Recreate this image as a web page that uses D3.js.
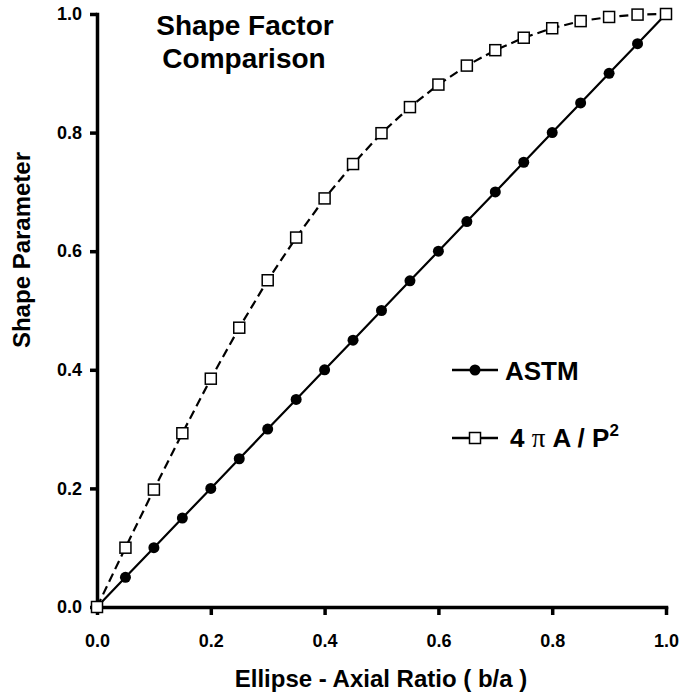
<!DOCTYPE html>
<html>
<head>
<meta charset="utf-8">
<script src="https://cdn.jsdelivr.net/npm/d3@7"></script>
<style>
  body { margin: 0; background: #fff; }
  svg text { font-family: "Liberation Sans", Arial, sans-serif; font-weight: bold; fill: #000; }
</style>
</head>
<body>
<div id="chart"></div>
<script>
// axial ratio b/a
const ratio = [0, 0.05, 0.1, 0.15, 0.2, 0.25, 0.3, 0.35, 0.4, 0.45, 0.5,
               0.55, 0.6, 0.65, 0.7, 0.75, 0.8, 0.85, 0.9, 0.95, 1.0];
// ASTM shape parameter
const astm = [0, 0.05, 0.1, 0.15, 0.2, 0.25, 0.3, 0.35, 0.4, 0.45, 0.5,
              0.55, 0.6, 0.65, 0.7, 0.75, 0.8, 0.85, 0.9, 0.95, 1.0];
// 4 pi A / P^2
const circ = [0, 0.10, 0.198, 0.293, 0.385, 0.471, 0.551, 0.623, 0.689, 0.747, 0.799,
              0.843, 0.881, 0.913, 0.939, 0.960, 0.976, 0.988, 0.995, 0.999, 1.0];
const ticks = [0, 0.2, 0.4, 0.6, 0.8, 1.0];

const width = 692, height = 694;
const svg = d3.select("#chart").append("svg")
    .attr("width", width)
    .attr("height", height);

const x = d3.scaleLinear().domain([0, 1]).range([97, 666]);
const y = d3.scaleLinear().domain([0, 1]).range([607, 14]);

// axes
const yAxis = d3.axisLeft(y).tickValues(ticks).tickFormat(d3.format(".1f"))
    .tickSize(7).tickSizeOuter(0).tickPadding(8);
const xAxis = d3.axisBottom(x).tickValues(ticks).tickFormat(d3.format(".1f"))
    .tickSize(8).tickSizeOuter(0).tickPadding(19);

const gy = svg.append("g").attr("transform", "translate(97,0)").call(yAxis);
const gx = svg.append("g").attr("transform", "translate(0,607)").call(xAxis);
[gx, gy].forEach(g => {
  g.select(".domain").attr("stroke", "#000").attr("stroke-width", 3.5).attr("stroke-linecap", "square");
  g.selectAll(".tick line").attr("stroke", "#000").attr("stroke-width", 3.5);
  g.selectAll(".tick text")
    .attr("font-family", "Liberation Sans, Arial, sans-serif")
    .attr("font-weight", "bold").attr("font-size", 18).attr("fill", "#000");
});

// lines
const pts1 = ratio.map((r, i) => [r, astm[i]]);
const pts2 = ratio.map((r, i) => [r, circ[i]]);
const line = d3.line().x(d => x(d[0])).y(d => y(d[1]));

svg.append("path").datum(pts2).attr("d", line)
    .attr("fill", "none").attr("stroke", "#000").attr("stroke-width", 2.2)
    .attr("stroke-dasharray", "9,5");
svg.append("path").datum(pts1).attr("d", line)
    .attr("fill", "none").attr("stroke", "#000").attr("stroke-width", 2.2);

svg.selectAll("circle.astm").data(pts1).enter().append("circle")
    .attr("class", "astm")
    .attr("cx", d => x(d[0])).attr("cy", d => y(d[1])).attr("r", 5.5)
    .attr("fill", "#000");

const sq = 11;
svg.selectAll("rect.circ").data(pts2).enter().append("rect")
    .attr("class", "circ")
    .attr("x", d => x(d[0]) - sq / 2).attr("y", d => y(d[1]) - sq / 2)
    .attr("width", sq).attr("height", sq)
    .attr("fill", "#fff").attr("stroke", "#000").attr("stroke-width", 1.5);

// title
const title = svg.append("text").attr("text-anchor", "middle").attr("font-size", 28);
title.append("tspan").attr("x", 245).attr("y", 35).text("Shape Factor");
title.append("tspan").attr("x", 244).attr("y", 68).text("Comparison");

// axis titles
svg.append("text").attr("x", 381).attr("y", 687).attr("text-anchor", "middle")
    .attr("font-size", 24).text("Ellipse - Axial Ratio ( b/a )");
svg.append("text").attr("transform", "translate(30,250) rotate(-90)")
    .attr("text-anchor", "middle").attr("font-size", 24).text("Shape Parameter");

// legend
const lg = svg.append("g");
lg.append("line").attr("x1", 452).attr("x2", 498).attr("y1", 370).attr("y2", 370)
    .attr("stroke", "#000").attr("stroke-width", 2.6);
lg.append("circle").attr("cx", 475).attr("cy", 370).attr("r", 5.5).attr("fill", "#000");
lg.append("text").attr("x", 505).attr("y", 380).attr("font-size", 26).text("ASTM");

lg.append("line").attr("x1", 452).attr("x2", 498).attr("y1", 438).attr("y2", 438)
    .attr("stroke", "#000").attr("stroke-width", 2.6);
lg.append("rect").attr("x", 475 - sq / 2).attr("y", 438 - sq / 2).attr("width", sq).attr("height", sq)
    .attr("fill", "#fff").attr("stroke", "#000").attr("stroke-width", 1.5);
const lt = lg.append("text").attr("x", 510).attr("y", 447).attr("font-size", 26);
lt.append("tspan").text("4 ");
lt.append("tspan").attr("font-family", "Liberation Serif, serif").attr("font-weight", "normal")
    .attr("font-size", 27).text("π");
lt.append("tspan").text(" A / P");
lt.append("tspan").attr("font-size", 17).attr("dy", -11).text("2");
</script>
</body>
</html>
